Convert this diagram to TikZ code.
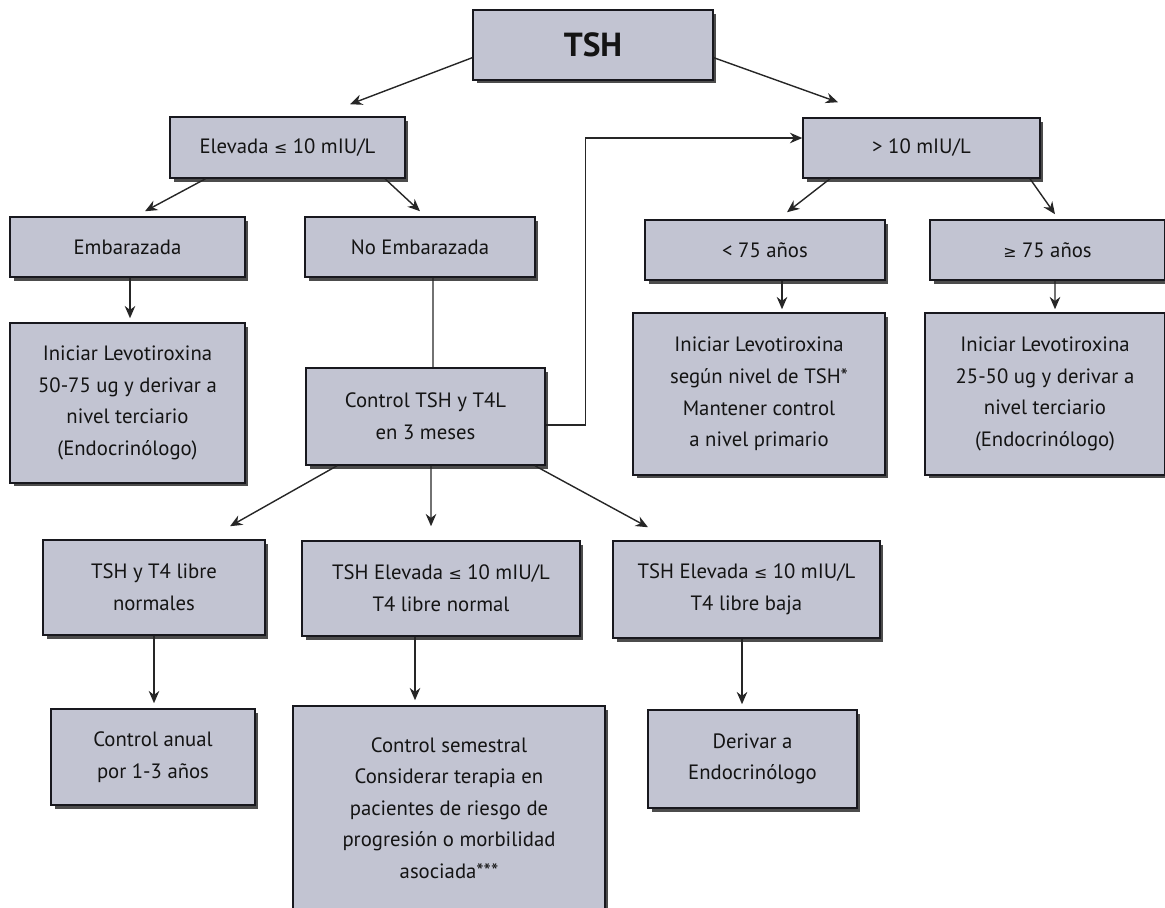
\documentclass[tikz,border=0pt]{standalone}
\usepackage{fontspec}
\setmainfont{PT Sans}
\newfontfamily\symfont{DejaVu Sans}
\usetikzlibrary{arrows.meta,calc,shadows}

\definecolor{boxfill}{RGB}{194,196,210}
\definecolor{boxline}{RGB}{24,24,30}
\newcommand{\leqsym}{{\symfont\small ≤}}
\newcommand{\geqsym}{{\symfont\small ≥}}

\begin{document}
\begin{tikzpicture}[
    x=0.02cm,
    y=-0.02cm,
    cell/.style={
        draw=boxline,
        line width=0.9pt,
        fill=boxfill,
        align=center,
        inner sep=0pt,
        text=black!92,
        font=\fontsize{11.8}{18}\selectfont,
        drop shadow={shadow xshift=0.07cm, shadow yshift=-0.07cm,
            fill=black!70, opacity=1}
    },
    title/.style={
        cell,
        font=\fontsize{19}{22}\selectfont\bfseries
    },
    arr/.style={
        -{Stealth[length=7pt,width=6pt]},
        line width=0.8pt,
        draw=black!85
    },
    link/.style={
        line width=0.8pt,
        draw=black!85
    }
]
    \useasboundingbox (0,0) rectangle (1165,907);

    % --- Top ---
    \node[title, minimum width=4.8cm, minimum height=1.4cm] (tsh) at (593,45) {TSH};

    % --- Level 1 ---
    \node[cell, minimum width=4.7cm, minimum height=1.22cm] (elev) at (287.5,147.5) {Elevada \leqsym\ 10 mIU/L};
    \node[cell, minimum width=4.74cm, minimum height=1.2cm] (high) at (921.5,148) {> 10 mIU/L};

    % --- Level 2 ---
    \node[cell, minimum width=4.7cm, minimum height=1.2cm] (emb) at (127.5,247) {Embarazada};
    \node[cell, minimum width=4.6cm, minimum height=1.2cm] (noemb) at (420,247) {No Embarazada};
    \node[cell, minimum width=4.8cm, minimum height=1.2cm] (young) at (765,250) {< 75 años};
    \node[cell, minimum width=4.7cm, minimum height=1.2cm] (old) at (1047.5,250) {\geqsym\ 75 años};

    % --- Level 3 ---
    \node[cell, minimum width=4.7cm, minimum height=3.2cm] (levoA) at (127.5,403)
        {Iniciar Levotiroxina\\50-75 ug y derivar a\\nivel terciario\\(Endocrinólogo)};
    \node[cell, minimum width=4.78cm, minimum height=1.94cm] (ctrl) at (425.5,416.5)
        {Control TSH y T4L\\en 3 meses};
    \node[cell, minimum width=5.04cm, minimum height=3.24cm] (levoB) at (759,394)
        {Iniciar Levotiroxina\\según nivel de TSH*\\Mantener control\\a nivel primario};
    \node[cell, minimum width=4.8cm, minimum height=3.24cm] (levoC) at (1045,394)
        {Iniciar Levotiroxina\\25-50 ug y derivar a\\nivel terciario\\(Endocrinólogo)};

    % --- Level 4 ---
    \node[cell, minimum width=4.44cm, minimum height=1.9cm] (norm) at (154,587.5)
        {TSH y T4 libre\\normales};
    \node[cell, minimum width=5.56cm, minimum height=1.9cm] (elevnorm) at (441,588.5)
        {TSH Elevada \leqsym\ 10 mIU/L\\T4 libre normal};
    \node[cell, minimum width=5.34cm, minimum height=1.94cm] (elevlow) at (746.5,589.5)
        {TSH Elevada \leqsym\ 10 mIU/L\\T4 libre baja};

    % --- Level 5 ---
    \node[cell, minimum width=4.08cm, minimum height=1.92cm] (anual) at (153,757)
        {Control anual\\por 1-3 años};
    \node[cell, minimum width=6.24cm, minimum height=4.08cm] (semes) at (449,808)
        {Control semestral\\Considerar terapia en\\pacientes de riesgo de\\progresión o morbilidad\\asociada***};
    \node[cell, minimum width=4.18cm, minimum height=1.96cm] (deriv) at (752.5,759)
        {Derivar a\\Endocrinólogo};

    % --- Arrows ---
    \draw[arr] (tsh.186) -- ($(elev.north)+(62.5,-12)$);
    \draw[arr] (tsh.354) -- ($(high.north)+(-83.5,-15)$);

    \draw[arr] ($(elev.south)+(-82,0)$) -- ($(emb.north)+(17.5,-5)$);
    \draw[arr] ($(elev.south)+(97.5,0)$) -- ($(noemb.north)+(0,-5)$);

    \draw[arr] ($(emb.south)+(2.5,0)$) -- ($(levoA.north)+(2.5,-4)$);
    \draw[link] ($(noemb.south)+(13,0)$) -- ($(ctrl.north)+(7.5,0)$);
    \draw[arr] ($(ctrl.east)+(0,8.5)$) -- ++(40,0) |- ($(high.west)+(0,-10)$);

    \draw[arr] ($(high.south)+(-91.5,0)$) -- ($(young.north)+(22,-7)$);
    \draw[arr] ($(high.south)+(108.5,0)$) -- ($(old.north)+(7.5,-5)$);
    \draw[arr] ($(young.south)+(17,0)$) -- ($(levoB.north)+(23,-3)$);
    \draw[arr] ($(old.south)+(7.5,0)$) -- ($(levoC.north)+(10,-3)$);

    \draw[arr] ($(ctrl.south)+(-88.5,0)$) -- ($(norm.north)+(76,-13)$);
    \draw[arr] ($(ctrl.south)+(5.5,0)$) -- ($(elevnorm.north)+(-10,-14)$);
    \draw[arr] ($(ctrl.south)+(109.5,0)$) -- ($(elevlow.north)+(-98.5,-13)$);

    \draw[arr] (norm.south) -- ($(anual.north)+(1,-5)$);
    \draw[arr] ($(elevnorm.south)+(-26,0)$) -- ($(semes.north)+(-34,-5)$);
    \draw[arr] ($(elevlow.south)+(-4.5,0)$) -- ($(deriv.north)+(-10.5,-5)$);
\end{tikzpicture}
\end{document}
